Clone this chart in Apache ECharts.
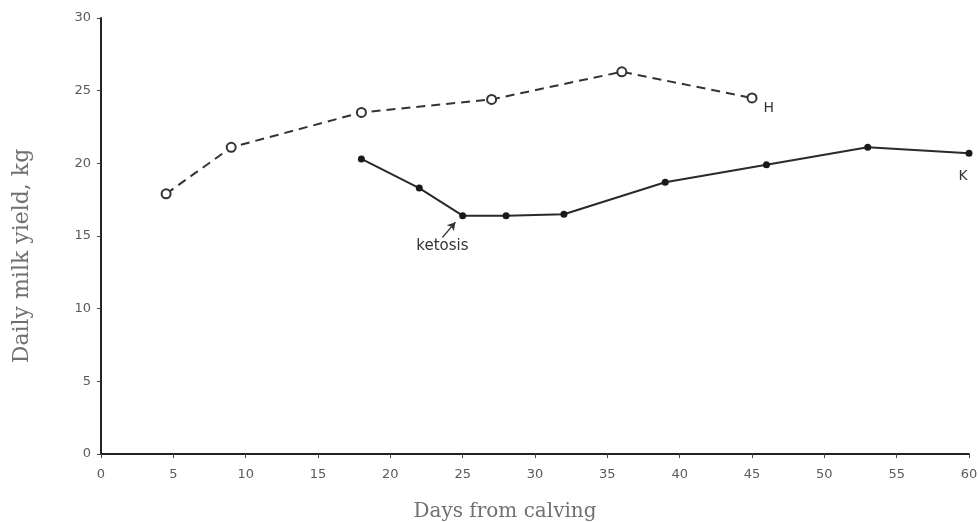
<!DOCTYPE html>
<html>
<head>
<meta charset="utf-8">
<script src="https://cdn.jsdelivr.net/npm/echarts@6/dist/echarts.min.js"></script>
<style>html,body{margin:0;padding:0;background:#fff}#c{width:978px;height:522px}</style>
</head>
<body>
<div id="c"></div>
<script>
const hDays = [4.5, 9, 18, 27, 36, 45];
const hYield = [17.9, 21.1, 23.5, 24.4, 26.3, 24.5];
const kDays = [18, 22, 25, 28, 32, 39, 46, 53, 60];
const kYield = [20.3, 18.3, 16.4, 16.4, 16.5, 18.7, 19.9, 21.1, 20.7];
const xTicks = [0, 60, 5];
const yTicks = [0, 30, 5];

const chart = echarts.init(document.getElementById('c'), null, {renderer: 'canvas'});
const tickFont = {color: '#5a5a5a', fontSize: 13, fontFamily: 'DejaVu Sans, sans-serif'};
const hData = hDays.map((d, i) => {
  const item = {value: [d, hYield[i]]};
  if (i === hDays.length - 1) item.label = {show: true, formatter: 'H', position: 'right', offset: [1, 10], color: '#333', fontSize: 14, fontFamily: 'DejaVu Sans, sans-serif'};
  return item;
});
const kData = kDays.map((d, i) => {
  const item = {value: [d, kYield[i]]};
  if (i === kDays.length - 1) item.label = {show: true, formatter: 'K', position: 'bottom', offset: [-6, 8], color: '#333', fontSize: 14, fontFamily: 'DejaVu Sans, sans-serif'};
  return item;
});
chart.setOption({
  animation: false,
  backgroundColor: '#fff',
  grid: {left: 101, right: 9, top: 18, bottom: 68, containLabel: false, outerBoundsMode: 'none'},
  xAxis: {
    type: 'value', min: xTicks[0], max: xTicks[1], interval: xTicks[2],
    name: 'Days from calving', nameLocation: 'middle', nameGap: 48,
    nameTextStyle: {color: '#707070', fontSize: 20, fontFamily: 'DejaVu Serif, Liberation Serif, serif', padding: [0, 60, 0, 0]},
    axisLine: {lineStyle: {color: '#222', width: 2}},
    axisTick: {show: true, length: 4, lineStyle: {color: '#444'}},
    axisLabel: Object.assign({margin: 14}, tickFont),
    splitLine: {show: false}
  },
  yAxis: {
    type: 'value', min: yTicks[0], max: yTicks[1], interval: yTicks[2],
    name: 'Daily milk yield, kg', nameLocation: 'middle', nameGap: 68,
    nameTextStyle: {color: '#707070', fontSize: 22, fontFamily: 'DejaVu Serif, Liberation Serif, serif', padding: [0, 40, 0, 0]},
    axisLine: {show: true, lineStyle: {color: '#222', width: 2}},
    axisTick: {show: true, length: 4, lineStyle: {color: '#444'}},
    axisLabel: Object.assign({margin: 10}, tickFont),
    splitLine: {show: false}
  },
  series: [
    {
      name: 'H', type: 'line', data: hData,
      symbol: 'emptyCircle', symbolSize: 9,
      lineStyle: {color: '#333', width: 2, type: [9, 6]},
      itemStyle: {color: '#333', borderWidth: 1.3}
    },
    {
      name: 'K', type: 'line', data: kData,
      symbol: 'circle', symbolSize: 7,
      lineStyle: {color: '#2a2a2a', width: 2},
      itemStyle: {color: '#1a1a1a'},
      markLine: {
        silent: true, symbol: ['none', 'arrow'], symbolSize: [7, 8],
        lineStyle: {color: '#333', width: 1.3, type: 'solid'},
        label: {show: false},
        data: [[{coord: [23.6, 14.9]}, {coord: [24.5, 15.95]}]]
      },
      markPoint: {
        silent: true, symbol: 'circle', symbolSize: 0,
        label: {show: true, formatter: 'ketosis', color: '#333', fontSize: 15, fontFamily: 'DejaVu Sans, sans-serif'},
        data: [{coord: [23.6, 14.3]}]
      }
    }
  ]
});
</script>
</body>
</html>
